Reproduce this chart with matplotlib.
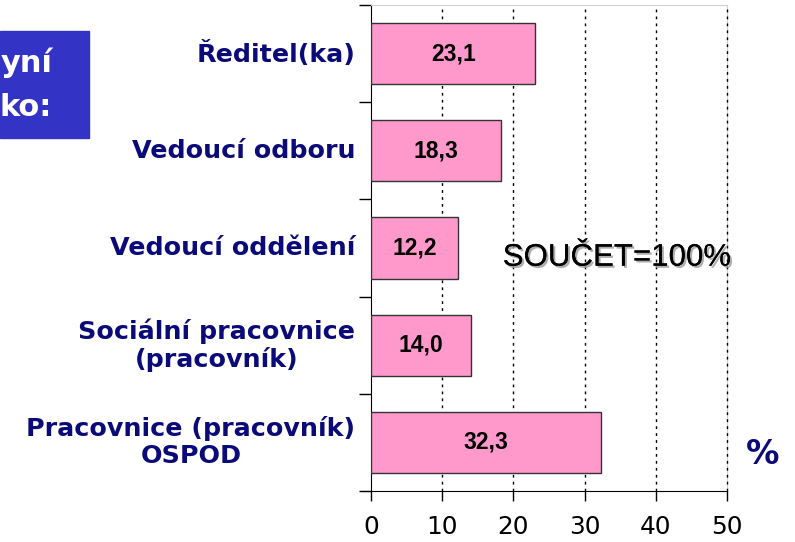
import matplotlib
matplotlib.use("Agg")
import matplotlib.pyplot as plt
import matplotlib.patheffects as pe
from matplotlib.patches import Rectangle

categories = [
    "Ředitel(ka)",
    "Vedoucí odboru",
    "Vedoucí oddělení",
    "Sociální pracovnice\n(pracovník)",
    "Pracovnice (pracovník)\nOSPOD",
]
values = [23.1, 18.3, 12.2, 14.0, 32.3]
value_labels = ["23,1", "18,3", "12,2", "14,0", "32,3"]
xticks = [0, 10, 20, 30, 40, 50]

NAVY = "#0a0a78"
PINK = "#ff99cc"

fig = plt.figure(figsize=(7.95, 5.42), dpi=100)
ax = fig.add_axes([371 / 795, 51 / 542, 356 / 795, 486 / 542])

pos = list(range(len(categories)))
ax.barh(pos, values, height=0.63, color=PINK, edgecolor="#333333", linewidth=1, zorder=3)
for p, v, lab in zip(pos, values, value_labels):
    ax.text(v / 2, p, lab, ha="center", va="center", fontsize=16.5,
            fontweight="bold", family="Liberation Sans", color="black", zorder=4)

ax.set_xlim(0, 50)
ax.set_ylim(len(categories) - 0.5, -0.5)
ax.set_xticks(xticks)
ax.set_xticklabels([str(t) for t in xticks], fontsize=17.8, family="DejaVu Sans")
ax.tick_params(axis="x", direction="out", length=7, width=1, pad=10)

# category boundaries as y ticks, labels centred on bars
ax.set_yticks([p - 0.5 for p in pos] + [len(pos) - 0.5])
ax.set_yticklabels([])
ax.tick_params(axis="y", direction="out", length=9, width=1)
for p, c in zip(pos, categories):
    ax.text(-2.2, p, c, ha="right", va="center", multialignment="center",
            fontsize=18.3, fontweight="bold", color=NAVY, family="DejaVu Sans",
            linespacing=1.15)

for t in xticks[1:]:
    ax.axvline(t, color="black", linestyle=(0, (2, 3)), linewidth=1, zorder=2, clip_on=False)

ax.spines["top"].set_color("#d0d0d0")
ax.spines["right"].set_color("#d0d0d0")
ax.spines["right"].set_zorder(1)
ax.spines["left"].set_color("black")
ax.spines["bottom"].set_color("black")
ax.spines["bottom"].set_bounds(-1.25, 50)

ax.text(18.5, 2.1, "SOUČET=100%", ha="left", va="center", fontsize=22.5,
        family="Liberation Sans", color="black",
        path_effects=[pe.withSimplePatchShadow(offset=(1.5, -1.5), shadow_rgbFace="#999999", alpha=0.8),
                      pe.Normal()])

fig.text(763 / 795, 1 - 455 / 542, "%", ha="center", va="center", fontsize=24,
         fontweight="bold", color=NAVY, family="DejaVu Sans")

# cropped blue title box
fig.patches.append(Rectangle((0, 1 - 138 / 542), 89 / 795, 107 / 542,
                             transform=fig.transFigure, color="#3333c6", zorder=0))
fig.text(1 / 795, 1 - 63 / 542, "yní", ha="left", va="center", fontsize=22,
         fontweight="bold", color="white", family="DejaVu Sans")
fig.text(0, 1 - 108 / 542, "ko:", ha="left", va="center", fontsize=22,
         fontweight="bold", color="white", family="DejaVu Sans")

fig.savefig("out.png", dpi=100)
